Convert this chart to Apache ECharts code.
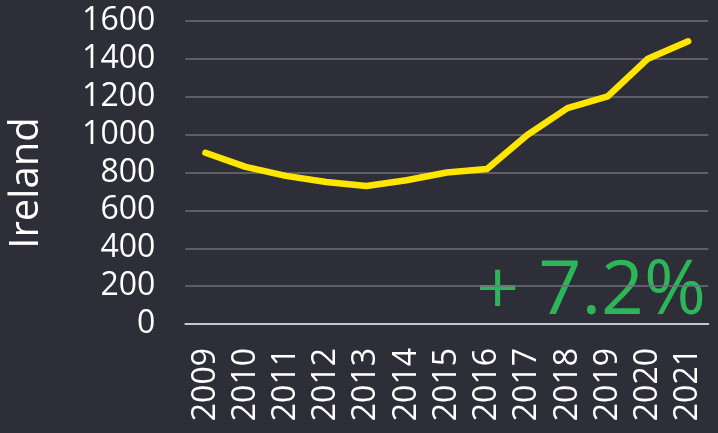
<!DOCTYPE html>
<html><head><meta charset="utf-8">
<script src="https://cdn.jsdelivr.net/npm/echarts@6/dist/echarts.min.js"></script>
<style>html,body{margin:0;padding:0;background:#2e2e38;}#c{width:718px;height:433px;}</style>
</head><body><div id="c"></div>
<script>
var years = ['2009','2010','2011','2012','2013','2014','2015','2016','2017','2018','2019','2020','2021'];
var values = [904, 830, 782, 750, 729, 759, 800, 818, 998, 1140, 1202, 1401, 1493];
var yTicks = [0, 200, 400, 600, 800, 1000, 1200, 1400, 1600];
var axisTitle = 'Ireland';
var changeLabel = '+ 7.2%';

var FONT = '"Open Sans"';
var chart = echarts.init(document.getElementById('c'));
chart.setOption({
  backgroundColor: '#2e2e38',
  animation: false,
  grid: {left: 185.3, right: 9.7, top: 21, bottom: 109},
  xAxis: {
    type: 'category', data: years, boundaryGap: true,
    axisLine: {show: true, lineStyle: {color: '#c8c8cf', width: 2}},
    axisTick: {show: false},
    axisLabel: {interval: 0, hideOverlap: false, rotate: 90, color: '#ffffff', fontSize: 32, fontFamily: FONT, margin: 24}
  },
  yAxis: {
    type: 'value', min: yTicks[0], max: yTicks[yTicks.length-1], interval: 200,
    axisLine: {show: false}, axisTick: {show: false},
    splitLine: {lineStyle: {color: '#6f6f79', width: 1.5}},
    axisLabel: {color: '#ffffff', fontSize: 32, fontFamily: FONT, margin: 30,
      formatter: function (v) { return String(v); }}
  },
  graphic: [
    {type: 'text', x: 27, y: 183, rotation: Math.PI/2,
     style: {text: axisTitle, fill: '#ffffff', font: '40px ' + FONT, textAlign: 'center', textVerticalAlign: 'middle'}},
    {type: 'text', x: 706, y: 293,
     style: {text: changeLabel, fill: '#2db55a', font: '75px ' + FONT, textAlign: 'right', textVerticalAlign: 'middle'}}
  ],
  series: [{
    type: 'line', data: values, smooth: false, symbol: 'none',
    lineStyle: {color: '#ffe600', width: 6.5, cap: 'round', join: 'round'}
  }]
});
</script></body></html>
